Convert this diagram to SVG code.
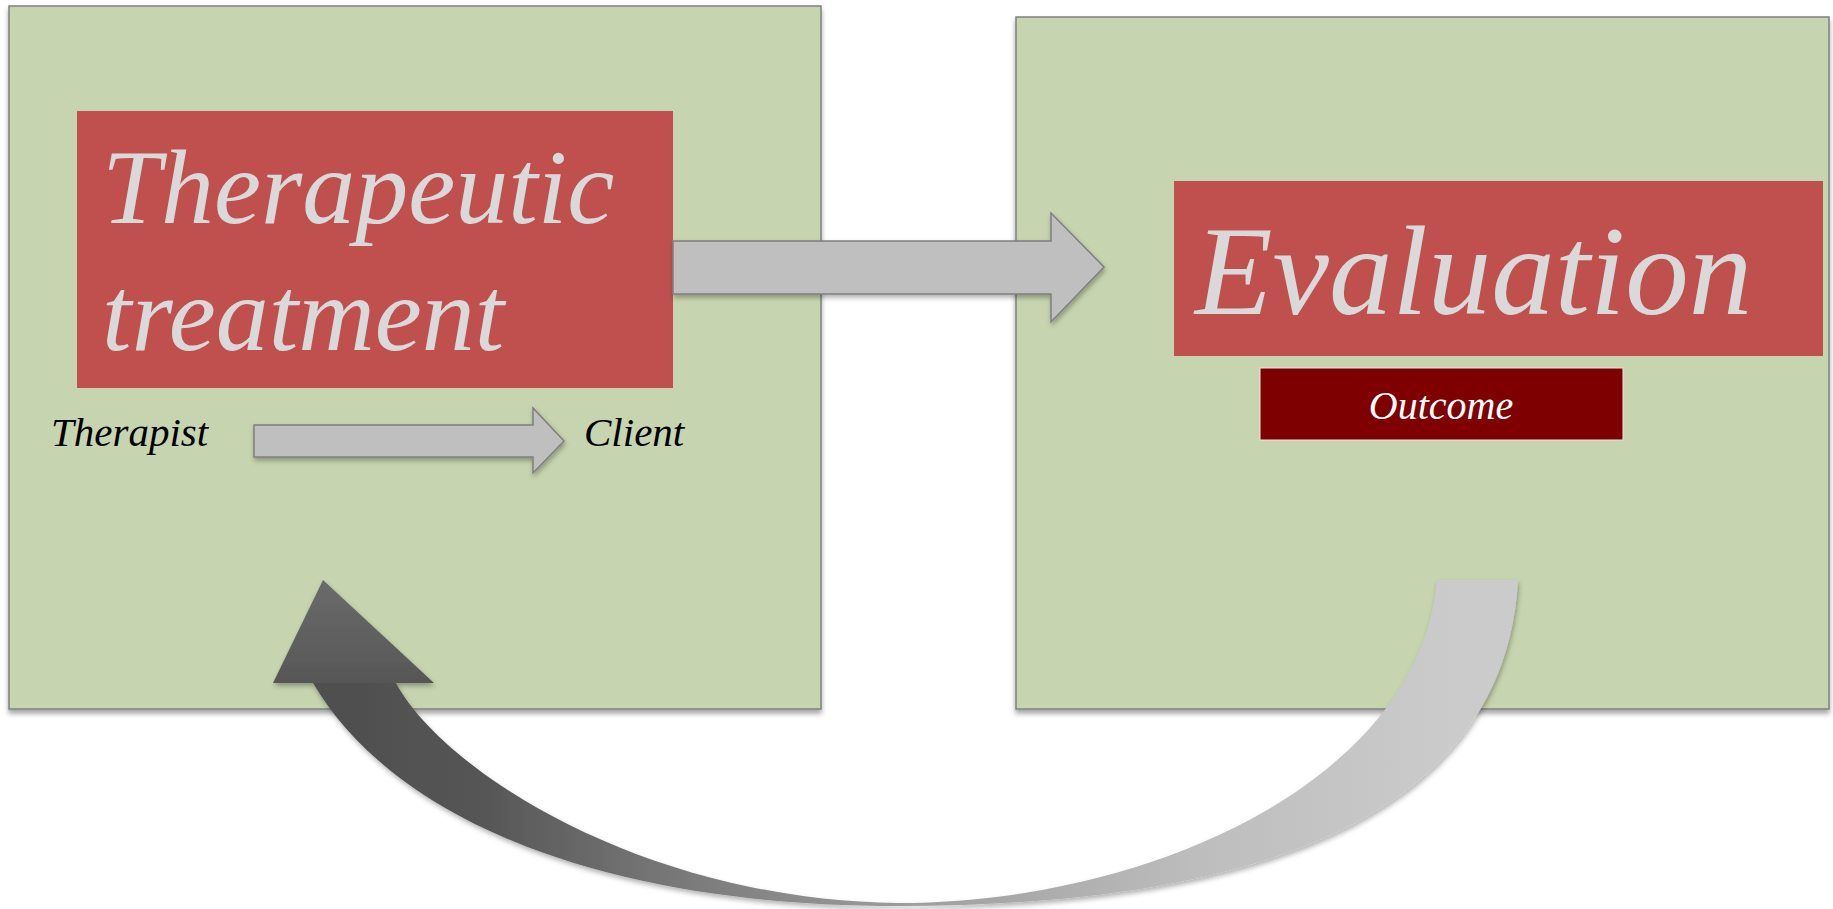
<svg xmlns="http://www.w3.org/2000/svg" width="1833" height="909" viewBox="0 0 1833 909">
  <defs>
    <filter id="shadow" x="-5%" y="-5%" width="110%" height="115%">
      <feDropShadow dx="0" dy="4" stdDeviation="2.5" flood-color="#000" flood-opacity="0.35"/>
    </filter>
    <filter id="softShadow" x="-5%" y="-5%" width="110%" height="115%">
      <feDropShadow dx="1" dy="3" stdDeviation="2.5" flood-color="#000" flood-opacity="0.3"/>
    </filter>
    <linearGradient id="loopBand" gradientUnits="userSpaceOnUse" x1="300" y1="0" x2="1450" y2="0">
      <stop offset="0" stop-color="#4e4e4e"/>
      <stop offset="0.15" stop-color="#545454"/>
      <stop offset="0.3" stop-color="#737373"/>
      <stop offset="0.52" stop-color="#9c9c9c"/>
      <stop offset="0.78" stop-color="#bdbdbd"/>
      <stop offset="1" stop-color="#cbcbcb"/>
    </linearGradient>
    <linearGradient id="loopHead" gradientUnits="userSpaceOnUse" x1="0" y1="580" x2="0" y2="690">
      <stop offset="0" stop-color="#6b6b6b"/>
      <stop offset="1" stop-color="#555555"/>
    </linearGradient>
  </defs>
  <style>
    .panel { fill: #c7d4b0; stroke: #808080; stroke-width: 1.5; }
    .title { fill: #c0504d; }
    .big { font-family: "Liberation Serif", "Times New Roman", serif; font-style: italic; fill: #d9d9d9; }
    .label { font-family: "Liberation Serif", "Times New Roman", serif; font-style: italic; font-size: 41px; fill: #000; }
    .block-arrow { fill: #bfbfbf; stroke: #7f7f7f; stroke-width: 1.5; }
  </style>

  <rect width="1833" height="909" fill="#ffffff"/>

  <!-- Treatment panel -->
  <g id="treatment">
    <rect class="panel" x="9" y="6" width="812" height="703" filter="url(#shadow)"/>
    <rect class="title" x="77" y="111" width="596" height="277"/>
    <text class="big" font-size="106" x="102" y="223">Therapeutic</text>
    <text class="big" font-size="106" x="102" y="350">treatment</text>
  </g>

  <g id="therapist">
    <text class="label" x="51" y="446">Therapist</text>
  </g>

  <g id="client">
    <text class="label" x="584" y="446">Client</text>
  </g>

  <!-- Evaluation panel -->
  <g id="evaluation">
    <rect class="panel" x="1016" y="17" width="813" height="692" filter="url(#shadow)"/>
    <rect class="title" x="1174" y="181" width="649" height="175"/>
    <text class="big" font-size="127" x="1195" y="314">Evaluation</text>
  </g>

  <g id="outcome">
    <rect x="1260" y="368" width="363" height="72" fill="#7f0000" stroke="#e6e6e6" stroke-width="1"/>
    <text x="1441" y="419" text-anchor="middle" font-family="'Liberation Serif', 'Times New Roman', serif" font-style="italic" font-size="40" fill="#ffffff">Outcome</text>
  </g>

  <!-- Connectors -->
  <g id="connectors">
    <!-- therapist to client -->
    <path class="block-arrow" filter="url(#softShadow)" d="M254,425 H533 V408 L564,441 L533,473 V457 H254 Z"/>
    <!-- treatment to evaluation -->
    <path class="block-arrow" filter="url(#softShadow)" d="M673,241 H1051 V213 L1104,267 L1051,322 V294 H673 Z"/>
    <!-- evaluation loops back to treatment -->
    <g filter="url(#softShadow)">
      <path fill="url(#loopBand)" d="M1437,580 H1518 C1505,820 1250,906 898,906 C600,906 393,819 313,683 L396,683 C441,768 640,900 898,903 C1150,903 1420,780 1437,580 Z"/>
      <path fill="url(#loopHead)" d="M323,580 L434,683 L273,683 Z"/>
    </g>
  </g>
</svg>
